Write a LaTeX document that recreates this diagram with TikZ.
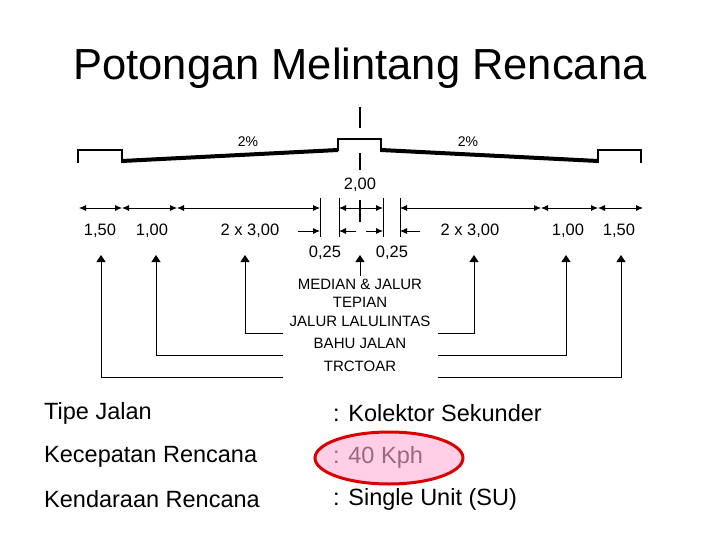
\documentclass[tikz,border=0pt]{standalone}
\usepackage{fontspec}
\setmainfont{Liberation Sans}
\usetikzlibrary{arrows.meta}
\definecolor{pinkfill}{RGB}{255,175,215}
\begin{document}
\begin{tikzpicture}[x=1pt,y=-1pt,
  road/.style={line width=4pt},
  curb/.style={line width=2.6pt},
  dim/.style={line width=0.8pt,{Latex[length=7pt,width=6pt]}-{Latex[length=7pt,width=6pt]}},
  dimr/.style={line width=0.8pt,-{Latex[length=7pt,width=6pt]}},
  lead/.style={line width=0.8pt,-{Triangle[length=7pt,width=9pt]}},
  lbl/.style={font=\fontsize{16.5}{19}\selectfont,inner sep=0pt},
  leg/.style={font=\fontsize{15}{18}\selectfont,inner sep=0pt},
  body/.style={font=\fontsize{23.5}{28}\selectfont,anchor=west,inner sep=0pt}]
\useasboundingbox (0,0) rectangle (720,540);
\node[font=\fontsize{43.5}{50}\selectfont] (title) at (360,68) {Potongan Melintang Rencana};
% cross section
\draw[curb] (78,163) -- (78,150) -- (122,150) -- (122,163);
\draw[curb] (641,163) -- (641,150) -- (598,150) -- (598,163);
\draw[road] (122,161) -- (338,150);
\draw[road] (381,150) -- (598,161);
\draw[curb] (338,151) -- (338,139) -- (381,139) -- (381,152);
\draw[line width=2.6pt] (360,107) -- (360,128) (360,153) -- (360,170) (360,200) -- (360,222);
\node[font=\fontsize{14}{16}\selectfont] (p1) at (248,142) {2\%};
\node[font=\fontsize{14}{16}\selectfont] (p2) at (468,142) {2\%};
% dimension ticks
\foreach \n/\x in {a/79,b/122,c/177,g/541,h/598,i/643}{\coordinate (\n) at (\x,208);}
\foreach \n/\x in {d/320,e/339,f/383,k/400}{\coordinate (\n) at (\x,208);
  \draw[line width=0.8pt] (\x,198) -- (\x,237);}
\draw[dim] (a) -- (b);
\draw[dim] (b) -- (c);
\draw[dim] (c) -- (d);
\draw[dim] (e) -- (f);
\draw[dim] (k) -- (g);
\draw[dim] (g) -- (h);
\draw[dim] (h) -- (i);
\coordinate (s1) at (298,231); \coordinate (t1) at (320,231);
\coordinate (s2) at (356,231); \coordinate (t2) at (339,231);
\coordinate (s3) at (366,231); \coordinate (t3) at (383,231);
\coordinate (s4) at (420,231); \coordinate (t4) at (400,231);
\draw[dimr] (s1) -- (t1); \draw[dimr] (s2) -- (t2);
\draw[dimr] (s3) -- (t3); \draw[dimr] (s4) -- (t4);
\node[lbl] (l1) at (100,231) {1,50};
\node[lbl] (l2) at (152,231) {1,00};
\node[lbl] (l3) at (250,231) {2 x 3,00};
\node[lbl] (l4) at (470,231) {2 x 3,00};
\node[lbl] (l5) at (568,231) {1,00};
\node[lbl] (l6) at (619,231) {1,50};
\node[lbl] (l7) at (360,185) {2,00};
\node[lbl] (l8) at (325,253) {0,25};
\node[lbl] (l9) at (392,253) {0,25};
% legend
\node[leg] (m1) at (360,284) {MEDIAN \& JALUR};
\node[leg] (m2) at (360,302) {TEPIAN};
\node[leg] (m3) at (360,321) {JALUR LALULINTAS};
\node[leg] (m4) at (360,343) {BAHU JALAN};
\node[leg] (m5) at (360,366) {TRCTOAR};
\draw[lead] (360,276) -- (360,255);
\draw[lead] (283,333) -- (245,333) -- (245,255);
\draw[lead] (438,333) -- (474,333) -- (474,255);
\draw[lead] (283,355) -- (156,355) -- (156,255);
\draw[lead] (438,355) -- (566,355) -- (566,255);
\draw[lead] (283,377) -- (101,377) -- (101,255);
\draw[lead] (438,377) -- (621,377) -- (621,255);
% table
\node[body] (r1a) at (44,413) {Tipe Jalan};
\node[body] (r1b) at (333,413) {: Kolektor Sekunder};
\node[body] (r2a) at (44,457) {Kecepatan Rencana};
\node[body] (r2b) at (333,457) {: 40 Kph};
\node[body] (r3a) at (44,499) {Kendaraan Rencana};
\node[body] (r3b) at (333,499) {: Single Unit (SU)};
\draw[draw=red!85!black,line width=3pt,fill=pinkfill,fill opacity=0.6] (389,458) ellipse [x radius=74,y radius=26];
\end{tikzpicture}
\end{document}
